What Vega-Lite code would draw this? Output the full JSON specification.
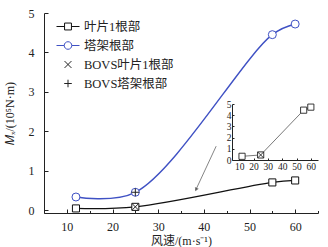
{
  "$schema": "https://vega.github.io/schema/vega-lite/v6.json",
  "width": 274,
  "height": 200,
  "autosize": {"type": "none"},
  "padding": {"left": 44, "top": 13, "right": 10, "bottom": 34},
  "background": "white",
  "config": {
    "view": {"stroke": null},
    "font": "Liberation Serif",
    "axis": {
      "domainColor": "#222",
      "tickColor": "#222",
      "labelColor": "#222",
      "titleColor": "#222",
      "grid": false,
      "labelOverlap": false,
      "labelFont": "Liberation Serif",
      "titleFont": "Liberation Serif, Noto Sans CJK SC",
      "titleFontWeight": "normal"
    },
    "legend": {
      "labelFont": "Liberation Serif, Noto Sans CJK SC",
      "labelColor": "#222"
    }
  },
  "datasets": {
    "main": [
      {"series": "叶片1根部", "speed": 12, "moment": 0.04},
      {"series": "叶片1根部", "speed": 25, "moment": 0.08},
      {"series": "叶片1根部", "speed": 55, "moment": 0.70},
      {"series": "叶片1根部", "speed": 60, "moment": 0.75},
      {"series": "塔架根部", "speed": 12, "moment": 0.33},
      {"series": "塔架根部", "speed": 25, "moment": 0.45},
      {"series": "塔架根部", "speed": 55, "moment": 4.45},
      {"series": "塔架根部", "speed": 60, "moment": 4.72}
    ],
    "bovs": [
      {"series": "BOVS叶片1根部", "speed": 25, "moment": 0.08},
      {"series": "BOVS塔架根部", "speed": 25, "moment": 0.45}
    ],
    "legend": [
      {"series": "叶片1根部", "speed": null, "moment": null},
      {"series": "塔架根部", "speed": null, "moment": null},
      {"series": "BOVS叶片1根部", "speed": null, "moment": null},
      {"series": "BOVS塔架根部", "speed": null, "moment": null}
    ],
    "arrow": [
      {"x1": 42.7, "y1": 1.62, "x2": 38.2, "y2": 0.5}
    ],
    "arrowhead": [
      {"x": 38.3, "y": 0.52}
    ],
    "inset": [
      {"speed": 12, "moment": 0.33},
      {"speed": 25, "moment": 0.45},
      {"speed": 55, "moment": 4.45},
      {"speed": 60, "moment": 4.72}
    ],
    "insetBovs": [
      {"speed": 25, "moment": 0.45}
    ]
  },
  "layer": [
    {
      "layer": [
        {
          "data": {"name": "main"},
          "transform": [{"filter": "datum.series === '塔架根部'"}],
          "mark": {"type": "line", "interpolate": "catmull-rom", "color": "#3f51c4", "strokeWidth": 1.4},
          "encoding": {
            "x": {"field": "speed", "type": "quantitative", "scale": {"domain": [5, 65], "nice": false, "zero": false},
              "axis": {
                "title": "风速/(m·s⁻¹)",
                "values": [5, 10, 15, 20, 25, 30, 35, 40, 45, 50, 55, 60, 65],
                "tickCount": 100,
                "format": "d",
                "labelExpr": "datum.value % 10 === 0 ? datum.label : ''",
                "labelOverlap": false,
                "tickSize": {"condition": {"test": "datum.value % 10 === 0", "value": -4}, "value": -2.5},
                "labelPadding": 12,
                "labelFontSize": 12,
                "labelFlush": false,
                "titleFontSize": 12,
                "titlePadding": 2
              }
            },
            "y": {"field": "moment", "type": "quantitative", "scale": {"domain": [-0.076, 5], "nice": false, "zero": false},
              "axis": {
                "title": "𝑀ₓ/(10⁵N·m)",
                "values": [0, 0.5, 1, 1.5, 2, 2.5, 3, 3.5, 4, 4.5, 5],
                "tickCount": 100,
                "format": "d",
                "labelExpr": "datum.value % 1 === 0 ? datum.label : ''",
                "labelOverlap": false,
                "tickSize": {"condition": {"test": "datum.value % 1 === 0", "value": -4}, "value": -2.5},
                "labelPadding": 14,
                "labelFontSize": 12,
                "titleFontSize": 12,
                "titlePadding": 12
              }
            }
          }
        },
        {
          "data": {"name": "main"},
          "transform": [{"filter": "datum.series === '叶片1根部'"}],
          "mark": {"type": "line", "interpolate": "catmull-rom", "color": "#111", "strokeWidth": 1.2},
          "encoding": {
            "x": {"field": "speed", "type": "quantitative"},
            "y": {"field": "moment", "type": "quantitative"}
          }
        },
        {
          "data": {"name": "arrow"},
          "mark": {"type": "rule", "color": "#666", "strokeWidth": 0.8},
          "encoding": {
            "x": {"field": "x1", "type": "quantitative"},
            "y": {"field": "y1", "type": "quantitative"},
            "x2": {"field": "x2"},
            "y2": {"field": "y2"}
          }
        },
        {
          "data": {"name": "arrowhead"},
          "mark": {"type": "point", "shape": "triangle-down", "filled": true, "color": "#444", "size": 18, "angle": 24},
          "encoding": {
            "x": {"field": "x", "type": "quantitative"},
            "y": {"field": "y", "type": "quantitative"}
          }
        },
        {
          "data": {"name": "main"},
          "transform": [{"filter": "datum.series === '塔架根部'"}],
          "mark": {"type": "point", "shape": "circle", "size": 64, "fill": "white", "stroke": "#3f51c4", "strokeWidth": 1, "opacity": 1},
          "encoding": {
            "x": {"field": "speed", "type": "quantitative"},
            "y": {"field": "moment", "type": "quantitative"}
          }
        },
        {
          "data": {"name": "main"},
          "transform": [{"filter": "datum.series === '叶片1根部'"}],
          "mark": {"type": "point", "shape": "square", "size": 50, "fill": "white", "stroke": "#111", "strokeWidth": 1, "opacity": 1},
          "encoding": {
            "x": {"field": "speed", "type": "quantitative"},
            "y": {"field": "moment", "type": "quantitative"}
          }
        },
        {
          "data": {"name": "bovs"},
          "transform": [{"filter": "datum.series === 'BOVS叶片1根部'"}],
          "mark": {"type": "point", "shape": "M-1,-1L1,1M-1,1L1,-1", "size": 40, "filled": false, "stroke": "#222", "strokeWidth": 1, "opacity": 1},
          "encoding": {
            "x": {"field": "speed", "type": "quantitative"},
            "y": {"field": "moment", "type": "quantitative"}
          }
        },
        {
          "data": {"name": "bovs"},
          "transform": [{"filter": "datum.series === 'BOVS塔架根部'"}],
          "mark": {"type": "point", "shape": "M-1,0H1M0,-1V1", "size": 64, "filled": false, "stroke": "#222", "strokeWidth": 1, "opacity": 1},
          "encoding": {
            "x": {"field": "speed", "type": "quantitative"},
            "y": {"field": "moment", "type": "quantitative"}
          }
        },
        {
          "data": {"name": "legend"},
          "mark": {"type": "point", "filled": false, "strokeWidth": 1, "opacity": 1},
          "encoding": {
            "x": {"field": "speed", "type": "quantitative"},
            "y": {"field": "moment", "type": "quantitative"},
            "color": {"field": "series", "type": "nominal",
              "scale": {"domain": ["叶片1根部", "塔架根部", "BOVS叶片1根部", "BOVS塔架根部"], "range": ["#111", "#3f51c4", "#222", "#222"]},
              "legend": {
                "title": null, "orient": "none", "legendX": 12, "legendY": 1.5,
                "symbolSize": 529, "symbolStrokeWidth": 1, "symbolFillColor": "white",
                "labelFontSize": 12.5, "labelOffset": 4, "rowPadding": -8.3, "padding": 0, "symbolOffset": 0
              }
            },
            "shape": {"field": "series", "type": "nominal",
              "scale": {"domain": ["叶片1根部", "塔架根部", "BOVS叶片1根部", "BOVS塔架根部"],
                "range": [
                  "M-1,0H-0.3M0.3,0H1M-0.3,-0.3H0.3V0.3H-0.3Z",
                  "M-1,0H-0.33M0.33,0H1M-0.33,0A0.33,0.33 0 1,0 0.33,0A0.33,0.33 0 1,0 -0.33,0",
                  "M-0.3,-0.3L0.3,0.3M-0.3,0.3L0.3,-0.3",
                  "M-0.33,0H0.33M0,-0.33V0.33"
                ]},
              "legend": {
                "title": null, "orient": "none", "legendX": 12, "legendY": 1.5,
                "symbolSize": 529, "symbolStrokeWidth": 1, "symbolFillColor": "white",
                "labelFontSize": 12.5, "labelOffset": 4, "rowPadding": -8.3, "padding": 0, "symbolOffset": 0
              }
            }
          }
        }
      ]
    },
    {
      "layer": [
        {
          "data": {"name": "inset"},
          "mark": {"type": "line", "color": "#555", "strokeWidth": 0.8},
          "encoding": {
            "x": {"field": "speed", "type": "quantitative",
              "scale": {"domain": [5, 65], "nice": false, "zero": false, "range": [188, 274]},
              "axis": {
                "orient": "bottom", "offset": -53, "title": null,
                "values": [10, 20, 30, 40, 50, 60],
                "tickCount": 100,
                "format": "d",
                "labelOverlap": false,
                "tickSize": -2, "labelPadding": 3, "labelFontSize": 9.5, "labelFlush": false
              }
            },
            "y": {"field": "moment", "type": "quantitative",
              "scale": {"domain": [0, 5], "nice": false, "zero": false, "range": [147, 91]},
              "axis": {
                "orient": "left", "offset": -188, "title": null,
                "values": [0, 1, 2, 3, 4, 5],
                "tickCount": 100,
                "format": "d",
                "labelOverlap": false,
                "tickSize": -2, "labelPadding": 3, "labelFontSize": 9.5
              }
            }
          }
        },
        {
          "data": {"name": "inset"},
          "mark": {"type": "point", "shape": "square", "size": 38, "fill": "white", "stroke": "#222", "strokeWidth": 0.9, "opacity": 1},
          "encoding": {
            "x": {"field": "speed", "type": "quantitative"},
            "y": {"field": "moment", "type": "quantitative"}
          }
        },
        {
          "data": {"name": "insetBovs"},
          "mark": {"type": "point", "shape": "M-1,-1L1,1M-1,1L1,-1", "size": 36, "filled": false, "stroke": "#222", "strokeWidth": 0.9, "opacity": 1},
          "encoding": {
            "x": {"field": "speed", "type": "quantitative"},
            "y": {"field": "moment", "type": "quantitative"}
          }
        }
      ]
    }
  ],
  "resolve": {"scale": {"x": "independent", "y": "independent"}}
}
